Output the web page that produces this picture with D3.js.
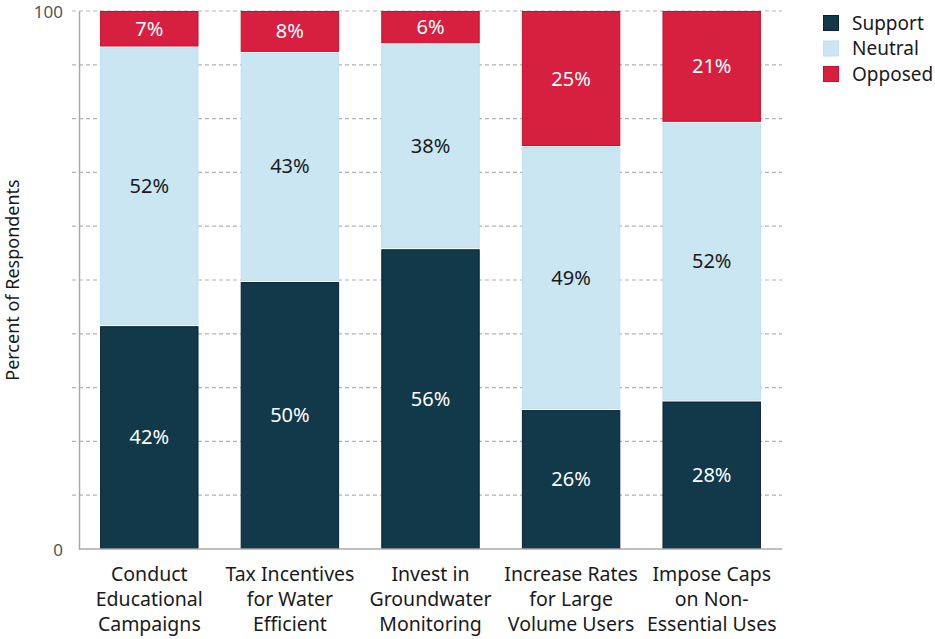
<!DOCTYPE html>
<html>
<head>
<meta charset="utf-8">
<script src="https://cdn.jsdelivr.net/npm/d3@7"></script>
<style>
  body { margin: 0; background: #fff; }
  text { font-family: "Noto Sans", sans-serif; }
</style>
</head>
<body>
<div id="chart"></div>
<script>
// categories and their wrapped labels
var categories = ["Conduct Educational Campaigns", "Tax Incentives for Water Efficient",
  "Invest in Groundwater Monitoring", "Increase Rates for Large Volume Users",
  "Impose Caps on Non-Essential Uses"];
var categoryLines = [
  ["Conduct", "Educational", "Campaigns"],
  ["Tax Incentives", "for Water", "Efficient"],
  ["Invest in", "Groundwater", "Monitoring"],
  ["Increase Rates", "for Large", "Volume Users"],
  ["Impose Caps", "on Non-", "Essential Uses"]
];

// series values (percent of respondents)
var seriesNames = ["Support", "Neutral", "Opposed"];
var support = [41.6, 49.8, 55.9, 26.0, 27.6];
var neutral = [51.8, 42.6, 38.1, 48.9, 51.8];
var opposed = [6.6, 7.6, 6.0, 25.1, 20.6];

var yTicks = [0, 100];
var gridValues = [10, 20, 30, 40, 50, 60, 70, 80, 90, 100];

var svgWidth = 935, svgHeight = 639;
var margin = { top: 11, right: 153, bottom: 90, left: 79 };
var chartWidth = svgWidth - margin.left - margin.right;
var chartHeight = svgHeight - margin.top - margin.bottom;

var fills = { Support: "#12394a", Neutral: "#c9e6f2", Opposed: "#d71f3f" };
var strokes = { Support: "#0a222d", Neutral: "#bfe0ee", Opposed: "#c8102e" };
var labelColors = { Support: "#ffffff", Neutral: "#1a1a1a", Opposed: "#ffffff" };

var svg = d3.select("#chart").append("svg")
  .attr("width", svgWidth)
  .attr("height", svgHeight);

var chartGroup = svg.append("g")
  .attr("transform", `translate(${margin.left}, ${margin.top})`);

// build rows for the stack
var rows = categories.map(function(c, i) {
  return { category: c, Support: support[i], Neutral: neutral[i], Opposed: opposed[i] };
});
var stacked = d3.stack().keys(seriesNames)(rows);

var xScale = d3.scaleBand()
  .domain(categories)
  .range([0, chartWidth])
  .paddingInner(0.3)
  .paddingOuter(0.15);

var yScale = d3.scaleLinear()
  .domain([0, 100])
  .range([chartHeight, 0]);

// dashed gridlines
chartGroup.append("g")
  .selectAll("line")
  .data(gridValues)
  .enter()
  .append("line")
  .attr("x1", -7)
  .attr("x2", chartWidth)
  .attr("y1", d => yScale(d))
  .attr("y2", d => yScale(d))
  .attr("stroke", "#b3b3b3")
  .attr("stroke-width", 1.2)
  .attr("stroke-dasharray", "4,3");

// bars
var layers = chartGroup.selectAll(".layer")
  .data(stacked)
  .enter()
  .append("g")
  .attr("class", "layer");

layers.selectAll("rect")
  .data(d => d.map(function(p) { return { key: d.key, p: p }; }))
  .enter()
  .append("rect")
  .attr("x", d => xScale(d.p.data.category) + 0.5)
  .attr("width", xScale.bandwidth() - 1)
  .attr("y", d => yScale(Math.min(d.p[1], 100)) + (d.key === "Opposed" ? 0.5 : 1.5))
  .attr("height", d => Math.max(0, yScale(d.p[0]) - yScale(Math.min(d.p[1], 100)) - (d.key === "Opposed" ? 1 : 2)))
  .attr("fill", d => fills[d.key])
  .attr("stroke", d => strokes[d.key])
  .attr("stroke-width", 1);

// value labels
layers.selectAll("text")
  .data(d => d.map(function(p) { return { key: d.key, p: p }; }))
  .enter()
  .append("text")
  .attr("x", d => xScale(d.p.data.category) + xScale.bandwidth() / 2)
  .attr("y", d => (yScale(d.p[0]) + yScale(Math.min(d.p[1], 100))) / 2)
  .attr("dy", "0.35em")
  .attr("text-anchor", "middle")
  .attr("font-size", 20)
  .attr("fill", d => labelColors[d.key])
  .text(d => Math.round(d.p[1] - d.p[0]) + "%");

// y axis
var leftAxis = d3.axisLeft(yScale).tickValues(yTicks).tickSize(0).tickPadding(16);
var yAxisGroup = chartGroup.append("g").call(leftAxis);
yAxisGroup.select(".domain").attr("stroke", "#a9a9b0").attr("stroke-width", 1.5);
yAxisGroup.selectAll("text").attr("font-size", 17).attr("fill", "#555")
  .attr("dy", "0.4em")
  .style("font-family", "\"Noto Sans\", sans-serif");

// x axis line
chartGroup.append("line")
  .attr("x1", 0)
  .attr("x2", chartWidth)
  .attr("y1", chartHeight)
  .attr("y2", chartHeight)
  .attr("stroke", "#a9a9b0")
  .attr("stroke-width", 1.5);

// x labels
var xLabels = chartGroup.append("g")
  .selectAll("text")
  .data(categories)
  .enter()
  .append("text")
  .attr("text-anchor", "middle")
  .attr("font-size", 19.5)
  .attr("fill", "#1a1a1a")
  .attr("transform", d => `translate(${xScale(d) + xScale.bandwidth() / 2}, ${chartHeight + 32})`);

xLabels.selectAll("tspan")
  .data((d, i) => categoryLines[i])
  .enter()
  .append("tspan")
  .attr("x", 0)
  .attr("y", (d, i) => i * 25)
  .text(d => d);

// y axis title
svg.append("text")
  .attr("transform", "rotate(-90)")
  .attr("x", -(margin.top + chartHeight / 2))
  .attr("y", 19)
  .attr("text-anchor", "middle")
  .attr("font-size", 18)
  .attr("fill", "#1a1a1a")
  .text("Percent of Respondents");

// legend
var legend = svg.append("g")
  .attr("transform", "translate(823, 15)");

var legendItems = legend.selectAll("g")
  .data(seriesNames)
  .enter()
  .append("g")
  .attr("transform", (d, i) => `translate(0, ${i * 25.5})`);

legendItems.append("rect")
  .attr("x", 0.5)
  .attr("y", 0.5)
  .attr("width", 15)
  .attr("height", 15)
  .attr("fill", d => fills[d])
  .attr("stroke", d => strokes[d]);

legendItems.append("text")
  .attr("x", 29)
  .attr("y", 8)
  .attr("dy", "0.35em")
  .attr("font-size", 19)
  .attr("fill", "#1a1a1a")
  .text(d => d);
</script>
</body>
</html>
